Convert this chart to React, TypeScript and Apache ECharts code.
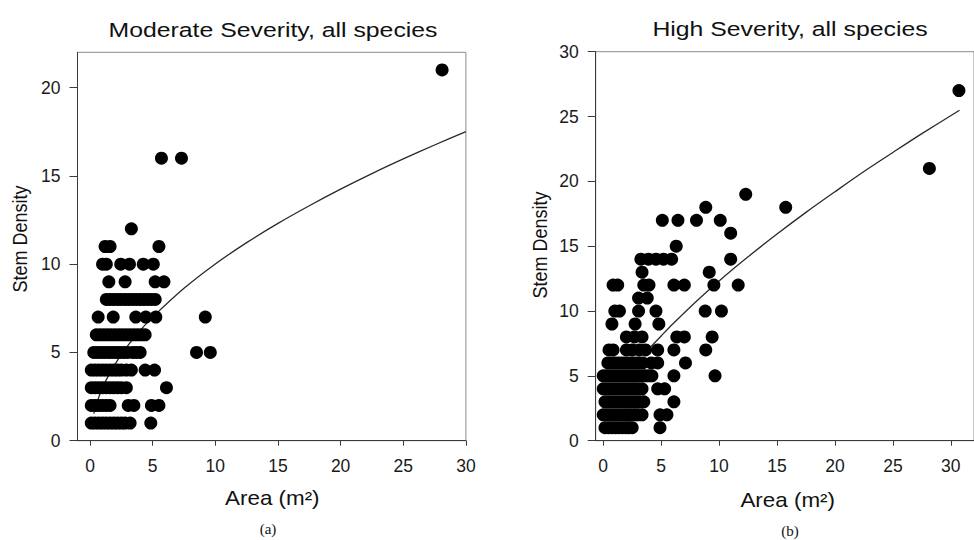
import React, { useEffect, useRef } from "react";
import * as echarts from "echarts";

const moderateTitle = "Moderate Severity, all species";
const highTitle = "High Severity, all species";
const xName = "Area (m²)";
const yName = "Stem Density";
const panelLabels = ["(a)", "(b)"];
const xTicks = [0, 5, 10, 15, 20, 25, 30];
const moderateYTicks = [0, 5, 10, 15, 20];
const highYTicks = [0, 5, 10, 15, 20, 25, 30];

// Moderate severity: [area, stem density]
const moderatePoints: [number, number][] = [
  [0.1, 1], [0.4, 1], [0.7, 1], [1.0, 1], [1.3, 1], [1.6, 1], [1.9, 1], [2.2, 1], [2.5, 1], [2.8, 1], [3.2, 1], [4.85, 1],
  [0.1, 2], [0.4, 2], [0.7, 2], [1.0, 2], [1.3, 2], [1.6, 2], [3.05, 2], [3.5, 2], [4.9, 2], [5.5, 2],
  [0.1, 3], [0.4, 3], [0.7, 3], [1.0, 3], [1.3, 3], [1.6, 3], [1.9, 3], [2.2, 3], [2.5, 3], [2.9, 3], [6.1, 3],
  [0.1, 4], [0.4, 4], [0.7, 4], [1.0, 4], [1.3, 4], [1.6, 4], [1.9, 4], [2.2, 4], [2.5, 4], [2.9, 4], [3.3, 4], [4.4, 4], [5.15, 4],
  [0.3, 5], [0.6, 5], [0.9, 5], [1.2, 5], [1.5, 5], [1.8, 5], [2.1, 5], [2.4, 5], [2.7, 5], [3.0, 5], [3.4, 5], [3.7, 5], [4.0, 5], [8.5, 5], [9.6, 5],
  [0.5, 6], [0.8, 6], [1.1, 6], [1.4, 6], [1.7, 6], [2.0, 6], [2.3, 6], [2.6, 6], [2.9, 6], [3.2, 6], [3.5, 6], [3.8, 6], [4.1, 6], [4.4, 6],
  [0.65, 7], [1.85, 7], [3.65, 7], [4.45, 7], [5.25, 7], [9.2, 7],
  [1.3, 8], [1.6, 8], [1.9, 8], [2.2, 8], [2.5, 8], [2.8, 8], [3.1, 8], [3.4, 8], [3.7, 8], [4.0, 8], [4.3, 8], [4.6, 8], [4.9, 8], [5.2, 8],
  [1.5, 9], [2.8, 9], [5.2, 9], [5.9, 9],
  [1.0, 10], [1.3, 10], [2.45, 10], [3.15, 10], [4.25, 10], [5.05, 10],
  [1.2, 11], [1.6, 11], [5.5, 11],
  [3.3, 12],
  [5.7, 16], [7.3, 16],
  [28.1, 21],
];

// Fitted curve
const moderateFit: [number, number][] = [
  [0.3, 1.53], [0.6, 2.27], [1, 3.0], [1.5, 3.73], [2, 4.34], [3, 5.37], [4, 6.24], [5, 7.0],
  [7.5, 8.63], [10, 10.01], [12.5, 11.22], [15, 12.31], [17.5, 13.31], [20, 14.25],
  [22.5, 15.13], [25, 15.96], [27.5, 16.75], [30, 17.51],
];

// High severity: [area, stem density]
const highPoints: [number, number][] = [
  [0.15, 1], [0.45, 1], [0.75, 1], [1.05, 1], [1.35, 1], [1.65, 1], [1.95, 1], [2.2, 1], [2.5, 1], [4.9, 1],
  [0.0, 2], [0.3, 2], [0.6, 2], [0.9, 2], [1.2, 2], [1.5, 2], [1.8, 2], [2.1, 2], [2.4, 2], [2.7, 2], [3.0, 2], [3.35, 2], [4.9, 2], [5.5, 2],
  [0.15, 3], [0.45, 3], [0.75, 3], [1.05, 3], [1.35, 3], [1.65, 3], [1.95, 3], [2.25, 3], [2.55, 3], [2.85, 3], [3.15, 3], [3.5, 3], [6.1, 3],
  [0.0, 4], [0.3, 4], [0.6, 4], [0.9, 4], [1.2, 4], [1.5, 4], [1.8, 4], [2.1, 4], [2.4, 4], [2.7, 4], [3.0, 4], [3.35, 4], [4.7, 4], [5.3, 4],
  [0.0, 5], [0.3, 5], [0.6, 5], [0.9, 5], [1.2, 5], [1.5, 5], [1.8, 5], [2.1, 5], [2.4, 5], [2.7, 5], [3.0, 5], [3.3, 5], [3.6, 5], [3.9, 5], [4.2, 5], [6.1, 5], [9.65, 5],
  [0.4, 6], [0.7, 6], [1.0, 6], [1.3, 6], [1.6, 6], [1.9, 6], [2.2, 6], [2.5, 6], [2.8, 6], [3.1, 6], [3.4, 6], [4.15, 6], [4.7, 6], [7.1, 6],
  [0.5, 7], [0.85, 7], [2.0, 7], [2.5, 7], [3.1, 7], [3.65, 7], [4.7, 7], [6.1, 7], [8.85, 7],
  [2.0, 8], [2.7, 8], [3.35, 8], [6.35, 8], [7.0, 8], [9.4, 8],
  [0.75, 9], [2.75, 9], [4.8, 9],
  [1.0, 10], [1.4, 10], [3.05, 10], [4.55, 10], [8.8, 10], [10.2, 10],
  [3.05, 11], [3.8, 11],
  [0.85, 12], [1.25, 12], [3.5, 12], [3.95, 12], [6.1, 12], [7.0, 12], [9.55, 12], [11.65, 12],
  [3.35, 13], [9.15, 13],
  [3.25, 14], [3.9, 14], [4.55, 14], [5.2, 14], [5.9, 14], [11.0, 14],
  [6.3, 15],
  [11.0, 16],
  [5.1, 17], [6.45, 17], [8.05, 17], [10.1, 17],
  [8.85, 18], [15.75, 18],
  [12.3, 19],
  [28.15, 21],
  [30.7, 27],
];

// Fitted curve
const highFit: [number, number][] = [
  [3.9, 7.05], [5, 8.08], [6, 9.0], [8, 10.72], [10, 12.32], [12.5, 14.18], [15, 15.94],
  [17.5, 17.61], [20, 19.2], [22.5, 20.76], [25, 22.23], [27.5, 23.68], [30.75, 25.49],
];

const tickFont = "'Liberation Sans', Arial, sans-serif";
const textFont = "'Liberation Sans', Arial, sans-serif";
const serifFont = "'Liberation Serif', 'Times New Roman', serif";
const axisColor = "#3a3a3a";

function xAxisCfg(grid: number, min: number, max: number) {
  return {
    type: "value",
    gridIndex: grid,
    min,
    max,
    axisLine: { show: true, onZero: false, lineStyle: { color: axisColor, width: 1 } },
    axisTick: { show: true, length: 5, customValues: xTicks, lineStyle: { color: axisColor } },
    axisLabel: { customValues: xTicks, margin: 16, fontSize: 17.5, color: "#1a1a1a", fontFamily: tickFont },
    splitLine: { show: false },
  };
}

function yAxisCfg(grid: number, max: number, ticks: number[]) {
  return {
    type: "value",
    gridIndex: grid,
    min: 0,
    max,
    axisLine: { show: true, onZero: false, lineStyle: { color: axisColor, width: 1 } },
    axisTick: { show: true, length: 8, customValues: ticks, lineStyle: { color: axisColor } },
    axisLabel: { customValues: ticks, margin: 17, fontSize: 17.5, color: "#1a1a1a", fontFamily: tickFont },
    splitLine: { show: false },
  };
}

function label(text: string, x: number, y: number, fontSize: number, scaleX = 1, rotation = 0, family = textFont, scaleY = 1) {
  return {
    type: "text",
    x,
    y,
    scaleX,
    scaleY,
    rotation,
    silent: true,
    style: {
      text,
      fontSize,
      fontFamily: family,
      fill: "#111",
      align: "center",
      verticalAlign: "middle",
    },
  };
}

export default function App() {
  const ref = useRef<HTMLDivElement>(null);
  useEffect(() => {
    if (!ref.current) return;
    const chart = echarts.init(ref.current, null, { renderer: "svg" });
    chart.setOption({
      animation: false,
      backgroundColor: "#ffffff",
      grid: [
        { left: 77.5, right: 508.1, top: 52.3, bottom: 99.3, show: true, borderColor: "#8c8c8c", borderWidth: 1 },
        { left: 595.7, right: -9.3, top: 51.7, bottom: 99.3, show: true, borderColor: "#8c8c8c", borderWidth: 1 },
      ],
      xAxis: [xAxisCfg(0, -1, 30), xAxisCfg(1, -0.65, 32)],
      yAxis: [yAxisCfg(0, 22, moderateYTicks), yAxisCfg(1, 30, highYTicks)],
      series: [
        {
          type: "line", xAxisIndex: 0, yAxisIndex: 0, data: moderateFit, smooth: 0.3,
          showSymbol: false, lineStyle: { color: "#2a2a2a", width: 1.3 }, z: 2, silent: true,
        },
        {
          type: "scatter", xAxisIndex: 0, yAxisIndex: 0, data: moderatePoints, symbolSize: 13,
          itemStyle: { color: "#000", opacity: 1 }, z: 3,
        },
        {
          type: "line", xAxisIndex: 1, yAxisIndex: 1, data: highFit, smooth: 0.3,
          showSymbol: false, lineStyle: { color: "#2a2a2a", width: 1.3 }, z: 2, silent: true,
        },
        {
          type: "scatter", xAxisIndex: 1, yAxisIndex: 1, data: highPoints, symbolSize: 13,
          itemStyle: { color: "#000", opacity: 1 }, z: 3,
        },
      ],
      graphic: [
        label(moderateTitle, 273, 30, 20.5, 1.21),
        label(highTitle, 790, 28.7, 20.5, 1.21),
        label(xName, 272.3, 498, 20, 1.12),
        label(xName, 787.7, 499.5, 20, 1.12),
        label(yName, 20.3, 239, 18, 1, Math.PI / 2, textFont, 1.12),
        label(yName, 540, 245, 18, 1, Math.PI / 2, textFont, 1.12),
        label(panelLabels[0], 268, 529, 15, 1, 0, serifFont),
        label(panelLabels[1], 790, 531, 15, 1, 0, serifFont),
      ],
    });
    return () => chart.dispose();
  }, []);
  return (
    <div
      ref={ref}
      style={{ position: "fixed", left: 0, top: 0, width: 974, height: 540, background: "#fff" }}
    />
  );
}
